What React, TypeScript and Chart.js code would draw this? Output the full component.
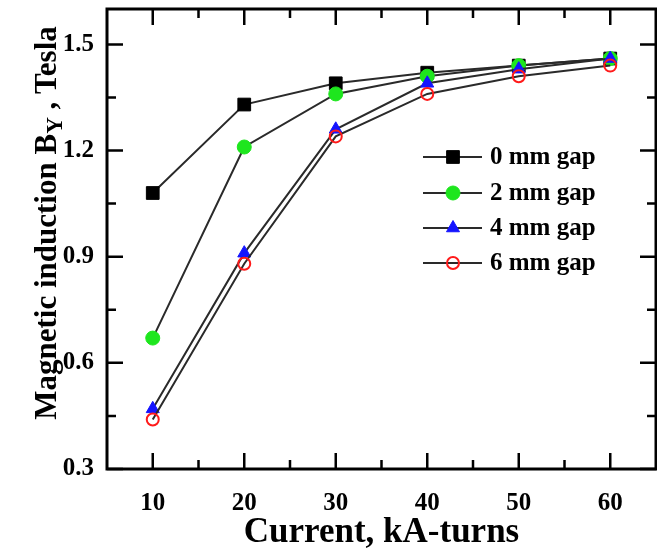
import React, { useEffect, useRef } from 'react';
import { Chart, registerables } from 'chart.js';

Chart.register(...registerables);

// ---- Data ----
const currentKAT = [10, 20, 30, 40, 50, 60];
const gap0mm = [1.08, 1.33, 1.39, 1.42, 1.44, 1.46];
const gap2mm = [0.67, 1.21, 1.36, 1.41, 1.44, 1.46];
const gap4mm = [0.47, 0.91, 1.26, 1.39, 1.43, 1.46];
const gap6mm = [0.44, 0.88, 1.24, 1.36, 1.41, 1.44];
const seriesLabels = ['0 mm gap', '2 mm gap', '4 mm gap', '6 mm gap'];

const xMajorTicks = [10, 20, 30, 40, 50, 60];
const xMinorTicks = [15, 25, 35, 45, 55];
const yMajorTicks = [0.3, 0.6, 0.9, 1.2, 1.5];
const yMinorTicks = [0.45, 0.75, 1.05, 1.35];

const xTitle = 'Current, kA-turns';
const yTitleMain = 'Magnetic induction B';
const yTitleSub = 'Y';
const yTitleEnd = ' , Tesla';

const FONT = '"Liberation Serif", "Times New Roman", serif';

const styles = [
  { pointStyle: 'rect', radius: 9, fill: '#000000', stroke: '#000000', bw: 1 },
  { pointStyle: 'circle', radius: 7, fill: '#1ee61e', stroke: '#1ee61e', bw: 1 },
  { pointStyle: 'triangle', radius: 7.5, fill: '#1414ff', stroke: '#1414ff', bw: 1 },
  { pointStyle: 'circle', radius: 6, fill: 'rgba(0,0,0,0)', stroke: '#ff1a1a', bw: 2 },
];

function drawMarker(ctx: CanvasRenderingContext2D, s: any, x: number, y: number) {
  ctx.save();
  ctx.beginPath();
  const r = s.radius;
  if (s.pointStyle === 'rect') {
    const h = Math.SQRT1_2 * r;
    ctx.rect(x - h, y - h, 2 * h, 2 * h);
  } else if (s.pointStyle === 'triangle') {
    let rad = 0;
    ctx.moveTo(x + Math.sin(rad) * r, y - Math.cos(rad) * r);
    rad += (2 * Math.PI) / 3;
    ctx.lineTo(x + Math.sin(rad) * r, y - Math.cos(rad) * r);
    rad += (2 * Math.PI) / 3;
    ctx.lineTo(x + Math.sin(rad) * r, y - Math.cos(rad) * r);
    ctx.closePath();
  } else {
    ctx.arc(x, y, r, 0, Math.PI * 2);
  }
  ctx.fillStyle = s.fill;
  ctx.fill();
  ctx.lineWidth = s.bw;
  ctx.strokeStyle = s.stroke;
  ctx.stroke();
  ctx.restore();
}

const framePlugin = {
  id: 'frameTicks',
  beforeDatasetsDraw(chart: any) {
    const { ctx, chartArea: a, scales } = chart;
    const xs = scales.x;
    const ys = scales.y;
    ctx.save();
    ctx.strokeStyle = '#000';
    ctx.lineWidth = 2.5;
    ctx.lineCap = 'butt';
    const major = 16;
    const minor = 9;
    ctx.beginPath();
    xMajorTicks.forEach((v) => {
      const px = xs.getPixelForValue(v);
      ctx.moveTo(px, a.bottom); ctx.lineTo(px, a.bottom - major);
      ctx.moveTo(px, a.top); ctx.lineTo(px, a.top + major);
    });
    xMinorTicks.forEach((v) => {
      const px = xs.getPixelForValue(v);
      ctx.moveTo(px, a.bottom); ctx.lineTo(px, a.bottom - minor);
      ctx.moveTo(px, a.top); ctx.lineTo(px, a.top + minor);
    });
    yMajorTicks.forEach((v) => {
      const py = ys.getPixelForValue(v);
      ctx.moveTo(a.left, py); ctx.lineTo(a.left + major, py);
      ctx.moveTo(a.right, py); ctx.lineTo(a.right - major, py);
    });
    yMinorTicks.forEach((v) => {
      const py = ys.getPixelForValue(v);
      ctx.moveTo(a.left, py); ctx.lineTo(a.left + minor, py);
      ctx.moveTo(a.right, py); ctx.lineTo(a.right - minor, py);
    });
    ctx.stroke();
    ctx.lineWidth = 3;
    ctx.strokeRect(a.left, a.top, a.right - a.left, a.bottom - a.top);
    ctx.restore();
  },
  afterDraw(chart: any) {
    const { ctx, chartArea: a } = chart;
    ctx.save();
    ctx.fillStyle = '#000';
    // X title
    ctx.font = `bold 35px ${FONT}`;
    ctx.textAlign = 'center';
    ctx.textBaseline = 'alphabetic';
    ctx.fillText(xTitle, (a.left + a.right) / 2, 542);
    // Y title with subscript
    const mainFont = `bold 31px ${FONT}`;
    const subFont = `bold 23px ${FONT}`;
    ctx.font = mainFont;
    const w1 = ctx.measureText(yTitleMain).width;
    const w3 = ctx.measureText(yTitleEnd).width;
    ctx.font = subFont;
    const w2 = ctx.measureText(yTitleSub).width;
    const total = w1 + w2 + w3;
    ctx.translate(56, 223);
    ctx.rotate(-Math.PI / 2);
    ctx.textAlign = 'left';
    let x = -total / 2;
    ctx.font = mainFont;
    ctx.fillText(yTitleMain, x, 0);
    x += w1;
    ctx.font = subFont;
    ctx.fillText(yTitleSub, x, 6);
    x += w2;
    ctx.font = mainFont;
    ctx.fillText(yTitleEnd, x, 0);
    ctx.restore();

    // Legend
    ctx.save();
    const lx0 = 423;
    const lx1 = 482;
    const mx = 453;
    const tx = 490;
    const rowY = [157, 193, 228, 263];
    ctx.font = `bold 25px ${FONT}`;
    ctx.textAlign = 'left';
    ctx.textBaseline = 'middle';
    seriesLabels.forEach((label, i) => {
      const y = rowY[i];
      ctx.beginPath();
      ctx.strokeStyle = '#2a2a2a';
      ctx.lineWidth = 2;
      ctx.moveTo(lx0, y);
      ctx.lineTo(lx1, y);
      ctx.stroke();
      drawMarker(ctx, styles[i], mx, y);
      ctx.fillStyle = '#000';
      ctx.fillText(label, tx, y + 1);
    });
    ctx.restore();
  },
};

export default function App() {
  const ref = useRef<HTMLCanvasElement>(null);
  useEffect(() => {
    document.body.style.margin = '0';
    const series = [gap0mm, gap2mm, gap4mm, gap6mm];
    const datasets = series.map((vals, i) => ({
      label: seriesLabels[i],
      data: currentKAT.map((x, j) => ({ x, y: vals[j] })),
      borderColor: '#2a2a2a',
      borderWidth: 2,
      pointStyle: styles[i].pointStyle,
      pointRadius: styles[i].radius,
      pointBackgroundColor: styles[i].fill,
      pointBorderColor: styles[i].stroke,
      pointBorderWidth: styles[i].bw,
      order: 3 - i,
      clip: false as any,
    }));
    const chart = new Chart(ref.current as HTMLCanvasElement, {
      type: 'line',
      data: { datasets },
      options: {
        animation: false,
        responsive: false,
        devicePixelRatio: 1,
        layout: { autoPadding: false, padding: { top: 9, right: 1, left: 0, bottom: 0 } },
        plugins: { legend: { display: false }, tooltip: { enabled: false } },
        scales: {
          x: {
            type: 'linear',
            min: 5,
            max: 65,
            grid: { display: false },
            border: { display: false },
            afterBuildTicks: (s: any) => {
              s.ticks = xMajorTicks.map((v) => ({ value: v }));
            },
            afterFit: (s: any) => {
              s.height = 82;
              s.paddingLeft = 0;
              s.paddingRight = 0;
            },
            ticks: {
              color: '#000',
              padding: 12,
              maxRotation: 0,
              font: { family: FONT, size: 25, weight: 'bold' },
              callback: (v: any) => String(v),
            },
          },
          y: {
            type: 'linear',
            min: 0.3,
            max: 1.6,
            grid: { display: false },
            border: { display: false },
            afterBuildTicks: (s: any) => {
              s.ticks = yMajorTicks.map((v) => ({ value: v }));
            },
            afterFit: (s: any) => {
              s.width = 107;
              s.paddingTop = 0;
              s.paddingBottom = 0;
            },
            ticks: {
              color: '#000',
              padding: 5,
              font: { family: FONT, size: 25, weight: 'bold' },
              callback: (v: any) => Number(v).toFixed(1),
            },
          },
        },
      },
      plugins: [framePlugin],
    });
    return () => chart.destroy();
  }, []);
  return (
    <div style={{ position: 'absolute', left: 0, top: 0, width: 657, height: 551, background: '#fff' }}>
      <canvas ref={ref} width={657} height={551} />
    </div>
  );
}
